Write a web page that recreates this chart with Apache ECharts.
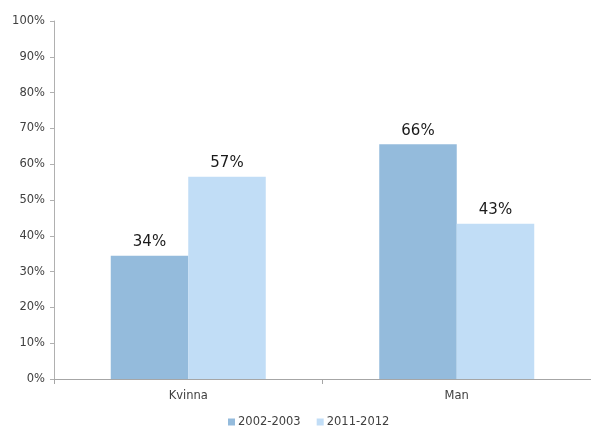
<!DOCTYPE html>
<html>
<head>
<meta charset="utf-8">
<script src="https://cdn.jsdelivr.net/npm/echarts@6/dist/echarts.min.js"></script>
<style>
  html, body { margin: 0; padding: 0; background: #fff; }
  #chart { width: 591px; height: 427px; }
</style>
</head>
<body>
<div id="chart"></div>
<script>
// Share by gender, two survey periods (percent)
const categories = ['Kvinna', 'Man'];
const seriesNames = ['2002-2003', '2011-2012'];
const values2002 = [34.4, 65.6];
const values2011 = [56.5, 43.4];
const colors = ['#94bbdc', '#c1ddf6'];

const font = 'Verdana, "DejaVu Sans", sans-serif';

const chart = echarts.init(document.getElementById('chart'));

function barSeries(name, data, color) {
  return {
    name: name,
    type: 'bar',
    data: data,
    barWidth: 77.5,
    barGap: '0%',
    itemStyle: { color: color },
    label: {
      show: true,
      position: 'top',
      distance: 6,
      color: '#1a1a1a',
      fontFamily: font,
      fontSize: 15,
      formatter: p => Math.round(p.value) + '%'
    }
  };
}

chart.setOption({
  animation: false,
  grid: { left: 54, top: 21, width: 543, height: 358, containLabel: false },
  legend: {
    top: 416,
    left: 228,
    itemWidth: 7,
    itemHeight: 7,
    itemGap: 16,
    icon: 'rect',
    padding: 0,
    textStyle: { fontFamily: font, fontSize: 11.5, color: '#404040', padding: [0, 0, 0, -2] },
    data: seriesNames
  },
  xAxis: {
    type: 'category',
    data: categories,
    axisLine: { lineStyle: { color: '#a6a6a6' } },
    axisTick: { show: true, length: 5, lineStyle: { color: '#a6a6a6' } },
    axisLabel: { fontFamily: font, fontSize: 11.5, color: '#404040', margin: 11 }
  },
  yAxis: {
    type: 'value',
    min: 0,
    max: 100,
    interval: 10,
    axisLine: { show: true, lineStyle: { color: '#b0b0b0' } },
    axisTick: { show: true, length: 4, lineStyle: { color: '#b0b0b0' } },
    splitLine: { show: false },
    axisLabel: {
      fontFamily: font, fontSize: 11.5, color: '#404040', margin: 9,
      formatter: v => v + '%'
    }
  },
  series: [
    barSeries(seriesNames[0], values2002, colors[0]),
    barSeries(seriesNames[1], values2011, colors[1])
  ]
});
</script>
</body>
</html>
